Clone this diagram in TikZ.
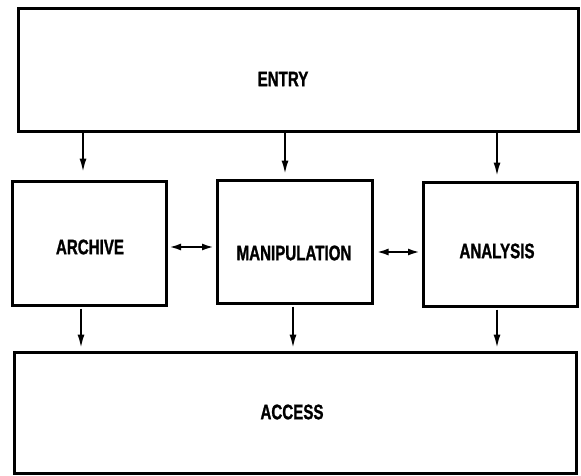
\documentclass[tikz,border=0pt]{standalone}
\usepackage{fontspec}
\setmainfont{Liberation Sans}[FakeStretch=0.72, BoldFeatures={FakeBold=1.2}]
\usetikzlibrary{arrows.meta}
\begin{document}
\begin{tikzpicture}[x=1pt,y=-1pt,
  blockbox/.style={draw, line width=3pt, inner sep=0pt},
  lbl/.style={font=\bfseries\fontsize{21}{21}\selectfont, inner sep=0pt},
  tip/.style={Latex[length=14pt,width=7pt]},
  arr/.style={line width=2.2pt, -{Latex[length=14pt,width=7pt]}},
  dbl/.style={line width=2.2pt, {Latex[length=12pt,width=7pt]}-{Latex[length=12pt,width=7pt]}}]
  \useasboundingbox (0,0) rectangle (581,475);

  % blocks
  \node[blockbox, minimum width=560pt, minimum height=123pt] (entry) at (298,69.5) {};
  \node[blockbox, minimum width=154pt, minimum height=124pt] (archive) at (89,243) {};
  \node[blockbox, minimum width=155pt, minimum height=123pt] (manip) at (294.5,241.5) {};
  \node[blockbox, minimum width=154pt, minimum height=124pt] (analysis) at (500,244) {};
  \node[blockbox, minimum width=562pt, minimum height=121pt] (access) at (295,412.5) {};

  % labels
  \node[lbl] (tentry) at (283,79) {ENTRY};
  \node[lbl] (tarchive) at (90,247) {ARCHIVE};
  \node[lbl] (tmanip) at (294,253) {MANIPULATION};
  \node[lbl] (tanalysis) at (497,251) {ANALYSIS};
  \node[lbl] (taccess) at (292,412) {ACCESS};

  % connector positions
  \coordinate (xa) at (83,0);
  \coordinate (xm) at (285,0);
  \coordinate (xn) at (497,0);
  \coordinate (xab) at (81,0);
  \coordinate (xmb) at (293,0);
  \coordinate (xnb) at (497,0);
  \coordinate (ya) at (0,247);
  \coordinate (yb) at (0,252);

  % entry feeds the three middle blocks
  \draw[arr, shorten >=7pt] (entry.south -| xa) -- (archive.north -| xa);
  \draw[arr, shorten >=4pt] (entry.south -| xm) -- (manip.north -| xm);
  \draw[arr, shorten >=4pt] (entry.south -| xn) -- (analysis.north -| xn);

  % middle blocks feed access
  \draw[arr, shorten <=2pt, shorten >=2pt] (archive.south -| xab) -- (access.north -| xab);
  \draw[arr, shorten <=2pt, shorten >=2pt] (manip.south -| xmb) -- (access.north -| xmb);
  \draw[arr, shorten <=2pt, shorten >=2pt] (analysis.south -| xnb) -- (access.north -| xnb);

  % two-way links
  \draw[dbl, shorten <=1.5pt, shorten >=1.5pt] (archive.east |- ya) -- (manip.west |- ya);
  \draw[dbl, shorten <=3pt, shorten >=1.5pt] (manip.east |- yb) -- (analysis.west |- yb);
\end{tikzpicture}
\end{document}
